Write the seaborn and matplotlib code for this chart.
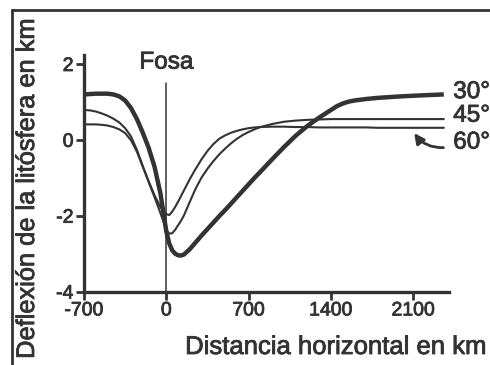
import matplotlib
matplotlib.use("Agg")
import matplotlib.pyplot as plt
from matplotlib.lines import Line2D
import matplotlib.patheffects as pe
import seaborn as sns
import pandas as pd

# ---- data ----
dist_km = [-700, -650, -600, -550, -500, -450, -400, -350, -300, -250, -200, -150, -100, -50,
           0, 25, 50, 75, 100, 125, 150, 200, 250, 300, 350, 400, 450, 500, 550, 600, 650,
           700, 750, 800, 900, 1000, 1100, 1200, 1300, 1400, 1450, 1500, 1550, 1600, 1700,
           1800, 2000, 2200, 2360]

defl_30 = [1.21, 1.22, 1.23, 1.23, 1.23, 1.21, 1.16, 1.05, 0.85, 0.56, 0.20, -0.20, -0.70, -1.40,
           -2.40, -2.72, -2.90, -2.99, -3.03, -3.04, -3.01, -2.87, -2.69, -2.51, -2.34, -2.17,
           -2.00, -1.84, -1.67, -1.50, -1.33, -1.16, -0.99, -0.83, -0.50, -0.18, 0.12, 0.38,
           0.60, 0.80, 0.90, 0.97, 1.02, 1.05, 1.09, 1.12, 1.16, 1.19, 1.21]

defl_45 = [0.80, 0.79, 0.76, 0.71, 0.65, 0.57, 0.47, 0.32, 0.10, -0.25, -0.68, -1.10, -1.50, -1.92,
           -2.36, -2.46, -2.45, -2.36, -2.24, -2.12, -1.98, -1.62, -1.27, -0.98, -0.75, -0.55,
           -0.37, -0.22, -0.08, 0.04, 0.14, 0.22, 0.29, 0.35, 0.43, 0.49, 0.52, 0.54, 0.55,
           0.56, 0.56, 0.56, 0.56, 0.56, 0.56, 0.56, 0.56, 0.56, 0.56]

defl_60 = [0.42, 0.42, 0.42, 0.41, 0.39, 0.35, 0.29, 0.19, 0.00, -0.30, -0.70, -1.08, -1.45, -1.76,
           -1.95, -1.97, -1.88, -1.76, -1.62, -1.47, -1.32, -1.02, -0.75, -0.50, -0.28, -0.10,
           0.04, 0.13, 0.20, 0.25, 0.29, 0.32, 0.34, 0.35, 0.36, 0.36, 0.35, 0.35, 0.34, 0.34,
           0.34, 0.34, 0.34, 0.34, 0.34, 0.33, 0.33, 0.33, 0.33]

series_labels = ["30°", "45°", "60°"]
x_ticks = [-700, 0, 700, 1400, 2100]
y_ticks = [-4, -2, 0, 2]

INK = "#333333"

sns.set_theme(style="white")
plt.rcParams["font.family"] = ["Liberation Sans", "DejaVu Sans"]
plt.rcParams["axes.unicode_minus"] = False

thick = [pe.withStroke(linewidth=0.6, foreground=INK)]

fig = plt.figure(figsize=(4.9, 3.65), dpi=100)
ax = fig.add_axes([84 / 490, 73 / 365, (449 - 84) / 490, (292 - 55) / 365])

df = pd.DataFrame({"x": dist_km, "30": defl_30, "45": defl_45, "60": defl_60})
sns.lineplot(data=df, x="x", y="30", ax=ax, color=INK, lw=3.2, solid_capstyle="butt")
sns.lineplot(data=df, x="x", y="45", ax=ax, color=INK, lw=1.5)
sns.lineplot(data=df, x="x", y="60", ax=ax, color=INK, lw=1.5)

# trench line
ax.plot([0, 0], [-4, 1.5], color=INK, lw=1.1)
ax.text(0, 2.05, "Fosa", ha="center", va="center", fontsize=17.5, color=INK, path_effects=thick)

ax.set_xlim(-700, 2404)
ax.set_ylim(-4, 2.25)
ax.set_xticks(x_ticks)
ax.set_yticks(y_ticks)
ax.set_xlabel("")
ax.set_ylabel("")
ax.tick_params(axis="both", colors=INK, labelsize=14, length=6, width=2, direction="out",
               pad=1.5, left=True, bottom=True)
for lbl in ax.get_xticklabels() + ax.get_yticklabels():
    lbl.set_path_effects(thick)
for s in ["top", "right"]:
    ax.spines[s].set_visible(False)
for s in ["left", "bottom"]:
    ax.spines[s].set_color(INK)
    ax.spines[s].set_linewidth(2.4)

# series labels at the right end
lab_y = [1.27, 0.65, -0.06]
for lab, yy in zip(series_labels, lab_y):
    ax.text(2440, yy, lab, ha="left", va="center", fontsize=17.5, color=INK, clip_on=False,
            path_effects=thick)

ax.annotate("", xy=(2095, 0.25), xytext=(2380, -0.19),
            arrowprops=dict(arrowstyle="-|>,head_length=0.5,head_width=0.25", color=INK, lw=2,
                            connectionstyle="arc3,rad=-0.3"),
            annotation_clip=False)

fig.text(487 / 490, 1 - 347 / 365, "Distancia horizontal en km", ha="right", va="center",
         fontsize=18.5, color=INK, path_effects=thick)
fig.text(27 / 490, 1 - 188 / 365, "Deflexión de la litósfera en km", ha="center", va="center",
         rotation=90, fontsize=18.3, color=INK, path_effects=thick)

# outer frame
fig.add_artist(Line2D([12 / 490, 12 / 490], [0, 1 - 10 / 365], color=INK, lw=2))
fig.add_artist(Line2D([12 / 490, 1], [1 - 10 / 365, 1 - 10 / 365], color=INK, lw=2))

fig.savefig("out.png", dpi=100)
